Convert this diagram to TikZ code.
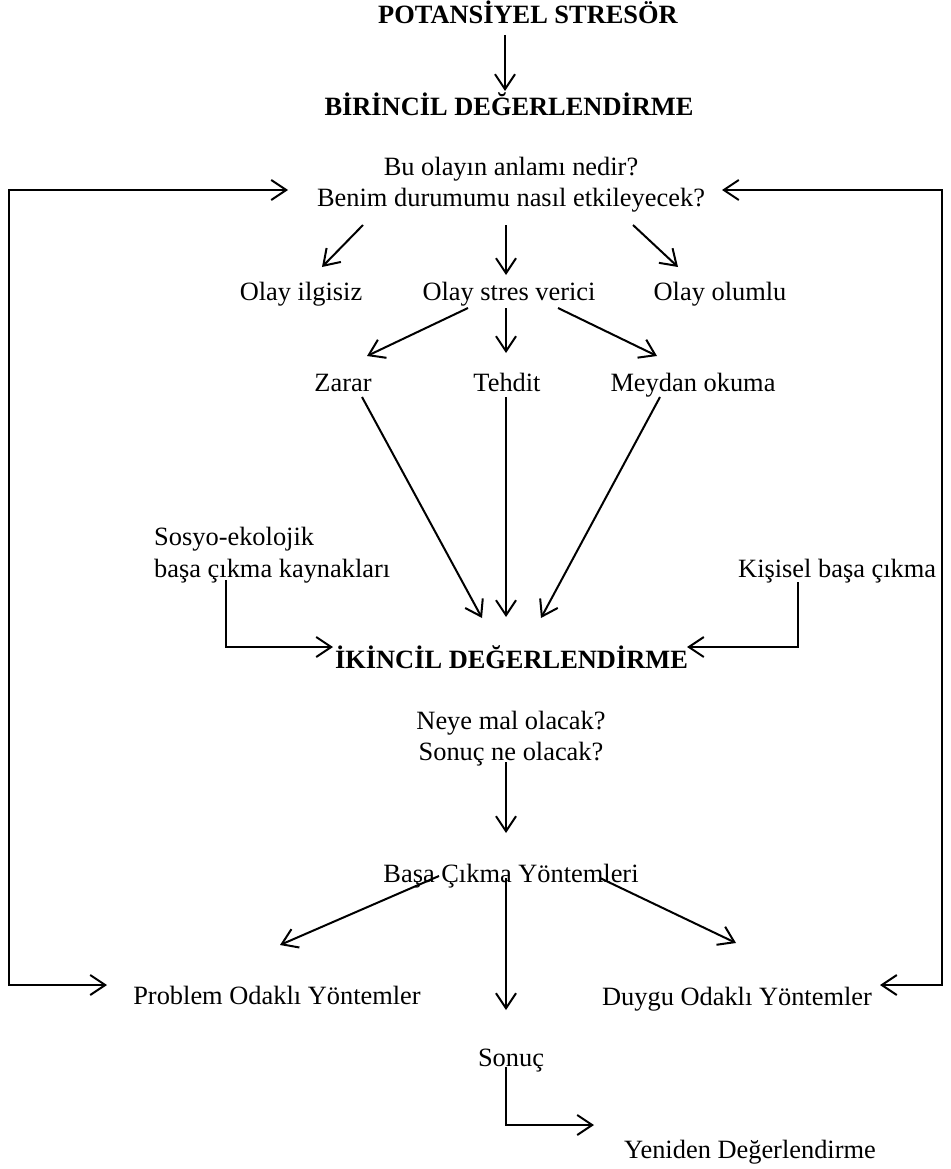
\documentclass[tikz,border=0pt]{standalone}
\usepackage{fontspec}
\setmainfont{Liberation Serif}
\usetikzlibrary{arrows.meta}
\begin{document}
\begin{tikzpicture}[x=1pt,y=-1pt,
  txt/.style={inner sep=0pt,anchor=base,font=\fontsize{26.4}{30.4}\selectfont},
  btxt/.style={txt,font=\fontsize{26.4}{30.4}\selectfont\bfseries},
  ltxt/.style={txt,anchor=base west},
  arr/.style={line width=2pt,-{Straight Barb[length=15pt,width=20pt,line width=2pt]}},
  loop/.style={line width=2pt,{Straight Barb[length=15pt,width=20pt,line width=2pt]}-{Straight Barb[length=15pt,width=20pt,line width=2pt]}},
  bent/.style={line width=1.5pt,-{Straight Barb[length=15pt,width=20pt,line width=2pt]}}]
\useasboundingbox (0,0) rectangle (950,1169);
% texts
\node[btxt] (pot) at (528,24) {POTANSİYEL STRESÖR};
\node[btxt] (bir) at (509,116) {BİRİNCİL DEĞERLENDİRME};
\node[txt] (q1a) at (511,176) {Bu olayın anlamı nedir?};
\node[txt] (q1b) at (511,207) {Benim durumumu nasıl etkileyecek?};
\node[txt] (ilg) at (301,300) {Olay ilgisiz};
\node[txt] (str) at (509,300) {Olay stres verici};
\node[txt] (olu) at (720,300) {Olay olumlu};
\node[txt] (zar) at (343,391) {Zarar};
\node[txt] (teh) at (507,391) {Tehdit};
\node[txt] (mey) at (693,391) {Meydan okuma};
\node[ltxt] (sos1) at (154,545) {Sosyo-ekolojik};
\node[ltxt] (sos2) at (154,577) {başa çıkma kaynakları};
\node[ltxt] (kis) at (738,577) {Kişisel başa çıkma};
\node[btxt] (iki) at (511.5,668) {İKİNCİL DEĞERLENDİRME};
\node[txt] (ney) at (511,729) {Neye mal olacak?};
\node[txt] (son) at (511,760) {Sonuç ne olacak?};
\node[txt] (bas) at (511,882) {Başa Çıkma Yöntemleri};
\node[txt] (pro) at (277,1004) {Problem Odaklı Yöntemler};
\node[txt] (duy) at (737,1005) {Duygu Odaklı Yöntemler};
\node[txt] (snc) at (511,1066) {Sonuç};
\node[txt] (yen) at (750,1158) {Yeniden Değerlendirme};
% connector end points
\coordinate (potS) at (505,35);   \coordinate (birN) at (505,91);
\coordinate (q1L) at (288,190);   \coordinate (q1R) at (722,190);
\coordinate (cL1) at (9,190);     \coordinate (cL2) at (9,985);
\coordinate (cR1) at (942,190);   \coordinate (cR2) at (942,985);
\coordinate (proW) at (107,985);  \coordinate (duyE) at (880,985);
\coordinate (q1s1) at (363,225);  \coordinate (ilgN) at (322,267);
\coordinate (q1s2) at (506,225);  \coordinate (strN) at (506,275);
\coordinate (q1s3) at (633,225);  \coordinate (oluN) at (678,267);
\coordinate (strs1) at (468,308); \coordinate (zarN) at (367,356);
\coordinate (strs2) at (506,308); \coordinate (tehN) at (506,353);
\coordinate (strs3) at (558,308); \coordinate (meyN) at (657,356);
\coordinate (zarS) at (362,397);  \coordinate (ikiN1) at (482,618);
\coordinate (tehS) at (506,397);  \coordinate (ikiN2) at (506,617);
\coordinate (meyS) at (660,397);  \coordinate (ikiN3) at (541,618);
\coordinate (sosS) at (226,580);  \coordinate (sosC) at (226,647); \coordinate (ikiW) at (333,647);
\coordinate (kisS) at (798,582);  \coordinate (kisC) at (798,647); \coordinate (ikiE) at (687,647);
\coordinate (sonS) at (506,762);  \coordinate (basN) at (506,833);
\coordinate (bass1) at (439,876); \coordinate (proN) at (280,945);
\coordinate (bass2) at (506,878); \coordinate (sncN) at (506,1010);
\coordinate (bass3) at (600,878); \coordinate (duyN) at (736,943);
\coordinate (sncS) at (506,1067); \coordinate (sncC) at (506,1125); \coordinate (yenN) at (594,1125);
% connectors
\draw[arr] (potS) -- (birN);
\draw[loop] (q1L) -- (cL1) -- (cL2) -- (proW);
\draw[loop] (q1R) -- (cR1) -- (cR2) -- (duyE);
\draw[arr] (q1s1) -- (ilgN);
\draw[arr] (q1s2) -- (strN);
\draw[arr] (q1s3) -- (oluN);
\draw[arr] (strs1) -- (zarN);
\draw[arr] (strs2) -- (tehN);
\draw[arr] (strs3) -- (meyN);
\draw[arr] (zarS) -- (ikiN1);
\draw[arr] (tehS) -- (ikiN2);
\draw[arr] (meyS) -- (ikiN3);
\draw[bent] (sosS) -- (sosC) -- (ikiW);
\draw[bent] (kisS) -- (kisC) -- (ikiE);
\draw[arr] (sonS) -- (basN);
\draw[arr] (bass1) -- (proN);
\draw[arr] (bass2) -- (sncN);
\draw[arr] (bass3) -- (duyN);
\draw[bent] (sncS) -- (sncC) -- (yenN);
\end{tikzpicture}
\end{document}
